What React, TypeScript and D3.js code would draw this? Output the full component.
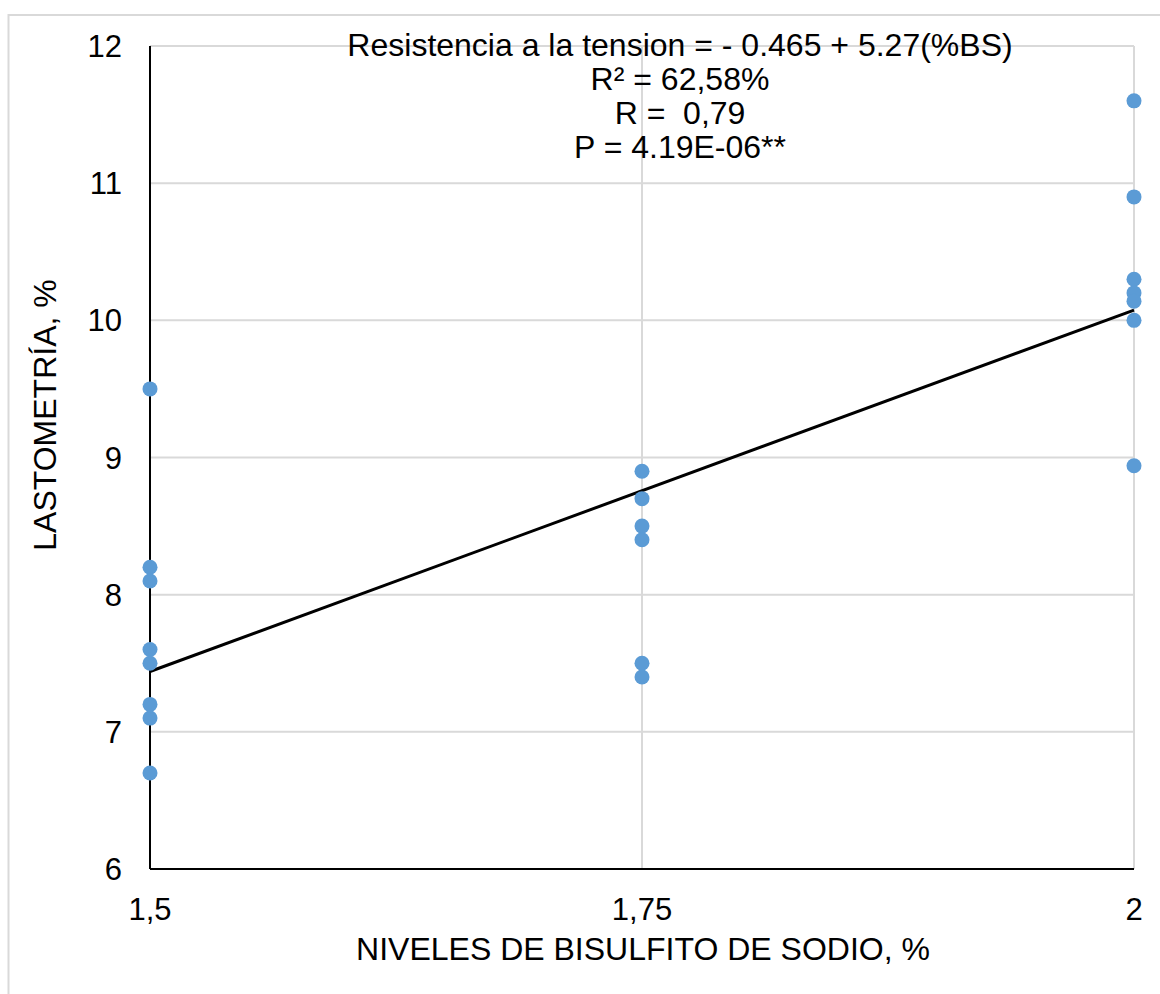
import React, { useCallback, useEffect, useRef } from 'react';
import * as d3 from 'd3';

// niveles de bisulfito (%) y lastometría (%)
const xLow = [1.5, 1.5, 1.5, 1.5, 1.5, 1.5, 1.5, 1.5];
const yLow = [9.5, 8.2, 8.1, 7.6, 7.5, 7.2, 7.1, 6.7];
const xMid = [1.75, 1.75, 1.75, 1.75, 1.75, 1.75];
const yMid = [8.9, 8.7, 8.5, 8.4, 7.5, 7.4];
const xHigh = [2, 2, 2, 2, 2, 2, 2];
const yHigh = [11.6, 10.9, 10.3, 10.2, 10.14, 10.0, 8.94];

const xTicks = [1.5, 1.75, 2];
const xTickLabels = ['1,5', '1,75', '2'];
const yTicks = [6, 7, 8, 9, 10, 11, 12];

const intercept = -0.465;
const slope = 5.27;

const annotation = [
  'Resistencia a la tension = - 0.465 + 5.27(%BS)',
  'R² = 62,58%',
  'R =  0,79',
  'P = 4.19E-06**',
];

const xTitle = 'NIVELES DE BISULFITO DE SODIO, %';
const yTitle = 'LASTOMETRÍA, %';

const App = () => {
  const svgRef = useRef<SVGSVGElement>(null);

  const drawChart = useCallback(() => {
    const svg = d3.select(svgRef.current);
    const font = '"Liberation Sans", Arial, sans-serif';
    const grid = '#d9d9d9';
    const x = d3.scaleLinear().domain([1.5, 2]).range([150, 1134]);
    const y = d3.scaleLinear().domain([6, 12]).range([869, 46]);

    // marco exterior
    svg
      .append('rect')
      .attr('x', 8.5)
      .attr('y', 15)
      .attr('width', 1200)
      .attr('height', 1100)
      .attr('fill', 'none')
      .attr('stroke', grid)
      .attr('stroke-width', 2);

    // líneas de cuadrícula
    svg
      .append('g')
      .selectAll('line')
      .data(yTicks.slice(1))
      .enter()
      .append('line')
      .attr('x1', x(1.5))
      .attr('x2', x(2))
      .attr('y1', (d) => y(d))
      .attr('y2', (d) => y(d))
      .attr('stroke', grid)
      .attr('stroke-width', 2);

    svg
      .append('g')
      .selectAll('line')
      .data(xTicks.slice(1))
      .enter()
      .append('line')
      .attr('x1', (d) => x(d))
      .attr('x2', (d) => x(d))
      .attr('y1', y(6))
      .attr('y2', y(12))
      .attr('stroke', grid)
      .attr('stroke-width', 2);

    // ejes
    svg
      .append('line')
      .attr('x1', x(1.5))
      .attr('x2', x(1.5))
      .attr('y1', y(12))
      .attr('y2', y(6))
      .attr('stroke', '#000')
      .attr('stroke-width', 2);
    svg
      .append('line')
      .attr('x1', x(1.5))
      .attr('x2', x(2))
      .attr('y1', y(6))
      .attr('y2', y(6))
      .attr('stroke', '#000')
      .attr('stroke-width', 2);

    svg
      .append('g')
      .selectAll('text')
      .data(yTicks)
      .enter()
      .append('text')
      .attr('x', 122)
      .attr('y', (d) => y(d) + 11)
      .attr('text-anchor', 'end')
      .attr('font-family', font)
      .attr('font-size', 31)
      .text((d) => d);

    svg
      .append('g')
      .selectAll('text')
      .data(xTicks)
      .enter()
      .append('text')
      .attr('x', (d) => x(d))
      .attr('y', 920)
      .attr('text-anchor', 'middle')
      .attr('font-family', font)
      .attr('font-size', 31)
      .text((d, i) => xTickLabels[i]);

    svg
      .append('text')
      .attr('x', 643)
      .attr('y', 960)
      .attr('text-anchor', 'middle')
      .attr('font-family', font)
      .attr('font-size', 32)
      .text(xTitle);

    svg
      .append('text')
      .attr('transform', 'translate(56,415) rotate(-90)')
      .attr('text-anchor', 'middle')
      .attr('font-family', font)
      .attr('font-size', 32)
      .text(yTitle);

    // recta de regresión
    const line = d3
      .line<number>()
      .x((d) => x(d))
      .y((d) => y(intercept + slope * d));
    svg
      .append('path')
      .datum([1.5, 2])
      .attr('d', line)
      .attr('fill', 'none')
      .attr('stroke', '#000')
      .attr('stroke-width', 3);

    // puntos
    const pts = [
      ...xLow.map((v, i) => [v, yLow[i]]),
      ...xMid.map((v, i) => [v, yMid[i]]),
      ...xHigh.map((v, i) => [v, yHigh[i]]),
    ];
    svg
      .append('g')
      .selectAll('circle')
      .data(pts)
      .enter()
      .append('circle')
      .attr('cx', (d) => x(d[0]))
      .attr('cy', (d) => y(d[1]))
      .attr('r', 7.5)
      .attr('fill', '#5b9bd5');

    // ecuación y estadísticos
    svg
      .append('g')
      .selectAll('text')
      .data(annotation)
      .enter()
      .append('text')
      .attr('x', 680)
      .attr('y', (d, i) => 56 + i * 34)
      .attr('text-anchor', 'middle')
      .attr('font-family', font)
      .attr('font-size', 32)
      .attr('xml:space', 'preserve')
      .style('white-space', 'pre')
      .text((d) => d);
  }, []);

  useEffect(() => {
    drawChart();
    return () => {
      d3.select(svgRef.current).selectAll('*').remove();
    };
  }, [drawChart]);

  return (
    <svg
      ref={svgRef}
      width={1160}
      height={994}
      style={{ position: 'absolute', left: 0, top: 0, background: '#fff' }}
    />
  );
};

export default App;
